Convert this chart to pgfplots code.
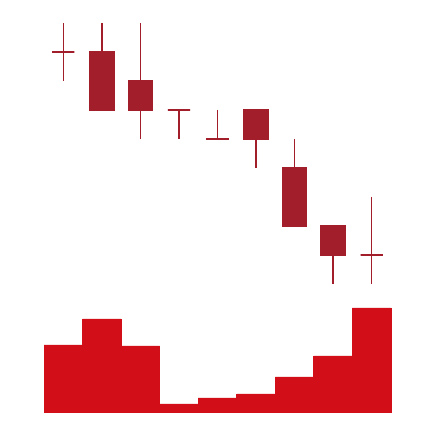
\documentclass[border=0pt]{standalone}
\usepackage{pgfplots}
\pgfplotsset{compat=1.18}
\usepgfplotslibrary{statistics}
\definecolor{candle}{RGB}{162,30,42}
\definecolor{vol}{RGB}{210,15,24}
\begin{document}
\begin{tikzpicture}
\useasboundingbox (0,0) rectangle (434pt,422pt);
% volume
\begin{axis}[at={(0,0)}, anchor=south west, scale only axis, width=434pt, height=422pt,
  hide axis, xmin=-0.642, xmax=10.616, ymin=-100, ymax=4120, clip=false,
  ybar, bar width=1, bar shift=0pt]
\addplot[fill=vol, draw=vol, line width=0.8pt] coordinates {
 (1,670) (2,930) (3,660) (4,80) (5,140) (6,180) (7,350) (8,560) (9,1040)};
\end{axis}
% candles
\begin{axis}[at={(0,0)}, anchor=south west, scale only axis, width=434pt, height=422pt,
  hide axis, xmin=-0.642, xmax=10.616, ymin=-3.759, ymax=10.793, clip=false,
  boxplot/draw direction=y,
  boxplot/box extend=0.63, boxplot/whisker extend=0,
  every boxplot/.style={draw=candle, fill=candle, line width=1.5pt, solid}]
% x, O, H, L, C
\addplot+[boxplot prepared={draw position=1, lower whisker=8, lower quartile=9, median=9, upper quartile=9, upper whisker=10, box extend=0.58}, draw=candle, fill=candle, mark=none, line width=1.5pt] coordinates {};
\addplot+[boxplot prepared={draw position=2, lower whisker=7, lower quartile=7, median=7, upper quartile=9, upper whisker=10}, draw=candle, fill=candle, mark=none, line width=1.5pt] coordinates {};
\addplot+[boxplot prepared={draw position=3, lower whisker=6, lower quartile=7, median=7, upper quartile=8, upper whisker=10}, draw=candle, fill=candle, mark=none, line width=1.5pt] coordinates {};
\addplot+[boxplot prepared={draw position=4, lower whisker=6, lower quartile=7, median=7, upper quartile=7, upper whisker=7, box extend=0.58}, draw=candle, fill=candle, mark=none, line width=1.5pt] coordinates {};
\addplot+[boxplot prepared={draw position=5, lower whisker=6, lower quartile=6, median=6, upper quartile=6, upper whisker=7, box extend=0.58}, draw=candle, fill=candle, mark=none, line width=1.5pt] coordinates {};
\addplot+[boxplot prepared={draw position=6, lower whisker=5, lower quartile=6, median=6, upper quartile=7, upper whisker=7}, draw=candle, fill=candle, mark=none, line width=1.5pt] coordinates {};
\addplot+[boxplot prepared={draw position=7, lower whisker=3, lower quartile=3, median=3, upper quartile=5, upper whisker=6}, draw=candle, fill=candle, mark=none, line width=1.5pt] coordinates {};
\addplot+[boxplot prepared={draw position=8, lower whisker=1, lower quartile=2, median=2, upper quartile=3, upper whisker=3}, draw=candle, fill=candle, mark=none, line width=1.5pt] coordinates {};
\addplot+[boxplot prepared={draw position=9, lower whisker=1, lower quartile=2, median=2, upper quartile=2, upper whisker=4, box extend=0.58}, draw=candle, fill=candle, mark=none, line width=1.5pt] coordinates {};
\end{axis}
\end{tikzpicture}
\end{document}
